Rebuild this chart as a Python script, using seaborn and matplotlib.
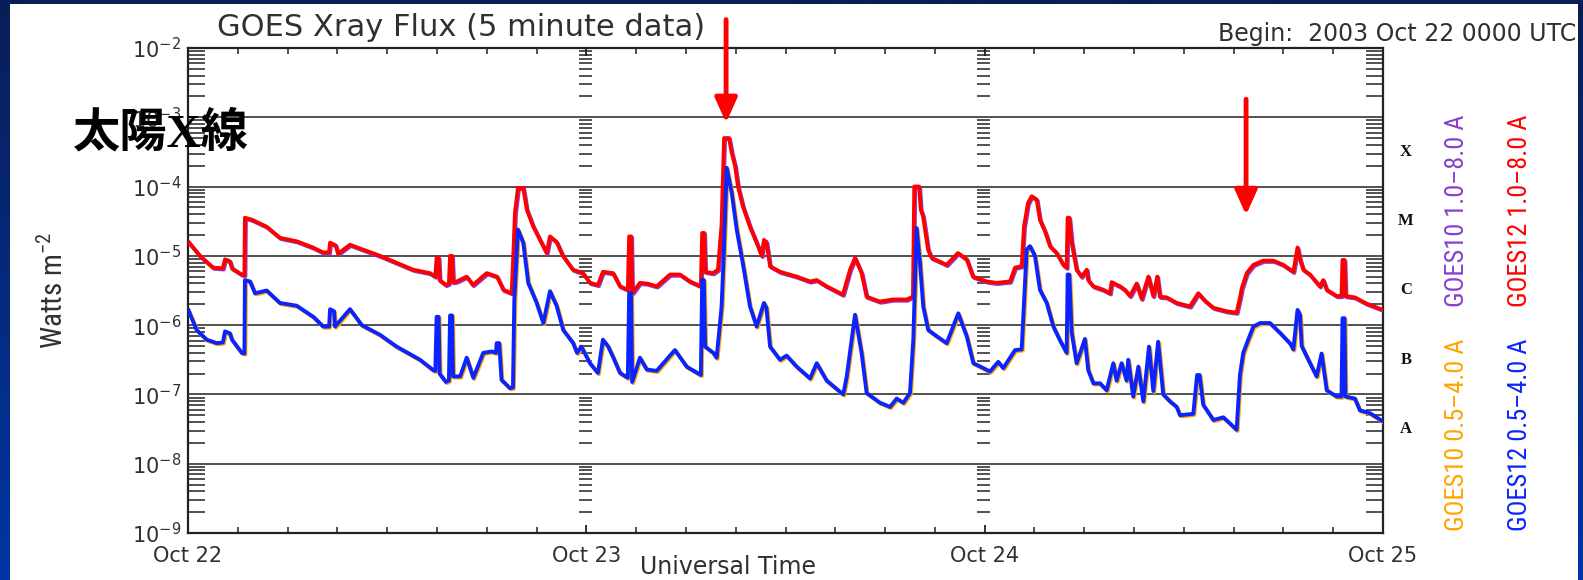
import numpy as np
import matplotlib
matplotlib.use("Agg")
import matplotlib.pyplot as plt
import matplotlib.transforms as mtransforms
from matplotlib import font_manager as fm
from matplotlib.ticker import LogLocator, MultipleLocator, NullFormatter
from matplotlib.patches import Rectangle
from matplotlib.colors import LinearSegmentedColormap
import seaborn as sns

# ---------------- data (hours since 2003 Oct 22 00:00 UTC, log10 W m^-2) -------------
day_hours = [0, 24, 48, 72]
day_labels = ["Oct 22", "Oct 23", "Oct 24", "Oct 25"]
decades = [1e-9, 1e-8, 1e-7, 1e-6, 1e-5, 1e-4, 1e-3, 1e-2]
decade_labels = [r"$10^{-9}$", r"$10^{-8}$", r"$10^{-7}$", r"$10^{-6}$",
                 r"$10^{-5}$", r"$10^{-4}$", r"$10^{-3}$", r"$10^{-2}$"]
class_letters = ["A", "B", "C", "M", "X"]
class_levels = [1e-8, 1e-7, 1e-6, 1e-5, 1e-4]

# GOES12 1.0-8.0 A (long channel)
long_hours = [0.0, 0.72, 1.51, 2.10, 2.23, 2.53, 2.65, 3.24, 3.40, 3.43, 3.86, 4.74, 5.54, 6.55,
              7.53, 8.13, 8.50, 8.56, 8.90, 9.04, 9.76, 10.54, 11.57, 12.57, 13.56, 14.58, 14.90,
              14.98, 15.10, 15.16, 15.54, 15.72, 15.79, 15.91, 15.97, 16.19, 16.79, 17.17, 18.00,
              18.62, 19.00, 19.50, 19.60, 19.70, 19.88, 20.20, 20.41, 20.79, 21.21, 21.61, 21.81,
              22.21, 22.59, 23.20, 23.80, 24.22, 24.70, 25.00, 25.61, 26.03, 26.50, 26.58, 26.70,
              26.76, 27.23, 27.66, 28.24, 29.04, 29.64, 30.25, 30.90, 30.98, 31.10, 31.16, 31.63,
              31.93, 32.15, 32.30, 32.60, 32.76, 32.96, 33.14, 33.44, 33.86, 34.26, 34.57, 34.70,
              34.85, 35.07, 35.67, 36.68, 37.48, 37.88, 38.48, 39.46, 39.89, 40.19, 40.59, 40.89,
              41.69, 42.48, 43.30, 43.68, 43.76, 44.05, 44.15, 44.29, 44.59, 44.81, 45.71, 46.39,
              46.92, 47.30, 48.12, 48.72, 49.53, 49.83, 50.23, 50.37, 50.61, 50.83, 51.14, 51.33,
              51.64, 51.94, 52.34, 52.74, 52.94, 53.00, 53.10, 53.24, 53.54, 53.84, 54.15, 54.24,
              54.55, 55.15, 55.55, 55.65, 56.15, 56.45, 56.76, 57.16, 57.46, 57.86, 58.16, 58.40,
              58.56, 58.97, 59.57, 60.37, 60.87, 61.28, 61.78, 62.58, 63.18, 63.38, 63.49, 63.79,
              64.19, 64.79, 65.39, 65.99, 66.60, 66.85, 67.00, 67.20, 67.60, 68.20, 68.40, 68.61,
              69.21, 69.50, 69.56, 69.68, 69.74, 70.31, 71.01, 72.00]
long_log10 = [-4.79, -5.00, -5.17, -5.18, -5.05, -5.08, -5.18, -5.27, -5.28, -4.45, -4.48, -4.58,
              -4.74, -4.79, -4.88, -4.95, -4.95, -4.81, -4.85, -4.97, -4.84, -4.91, -5.00, -5.10,
              -5.20, -5.25, -5.30, -5.03, -5.03, -5.35, -5.42, -5.40, -5.00, -5.00, -5.38, -5.37,
              -5.30, -5.42, -5.25, -5.30, -5.49, -5.54, -5.00, -4.38, -4.02, -4.02, -4.33, -4.57,
              -4.77, -4.96, -4.72, -4.80, -5.00, -5.20, -5.25, -5.39, -5.42, -5.23, -5.25, -5.44,
              -5.49, -4.72, -4.72, -5.54, -5.39, -5.40, -5.44, -5.27, -5.27, -5.37, -5.44, -4.67,
              -4.67, -5.23, -5.25, -5.20, -4.55, -3.30, -3.30, -3.51, -3.70, -4.00, -4.29, -4.58,
              -4.81, -5.00, -4.77, -4.80, -5.15, -5.23, -5.30, -5.37, -5.35, -5.44, -5.56, -5.20,
              -5.03, -5.25, -5.59, -5.66, -5.63, -5.63, -5.59, -4.00, -4.00, -4.33, -4.43, -4.91,
              -5.03, -5.13, -4.96, -5.05, -5.30, -5.37, -5.39, -5.37, -5.17, -5.15, -4.58, -4.24,
              -4.14, -4.19, -4.48, -4.65, -4.86, -4.96, -5.13, -5.17, -4.45, -4.45, -4.80, -5.20,
              -5.30, -5.20, -5.35, -5.44, -5.49, -5.54, -5.38, -5.44, -5.49, -5.58, -5.40, -5.62,
              -5.30, -5.58, -5.30, -5.59, -5.60, -5.68, -5.73, -5.54, -5.65, -5.75, -5.80, -5.82,
              -5.61, -5.47, -5.25, -5.13, -5.07, -5.07, -5.13, -5.23, -4.88, -5.05, -5.20, -5.27,
              -5.44, -5.35, -5.49, -5.58, -5.58, -5.06, -5.06, -5.58, -5.60, -5.69, -5.78]

# GOES12 0.5-4.0 A (short channel)
short_hours = [0.0, 0.52, 1.13, 1.73, 2.10, 2.23, 2.53, 2.65, 3.24, 3.40, 3.43, 3.74, 4.04, 4.74,
               5.54, 6.55, 7.55, 8.15, 8.50, 8.56, 8.80, 8.86, 9.76, 10.47, 11.57, 12.57, 13.98,
               14.78, 14.90, 14.98, 15.10, 15.16, 15.54, 15.72, 15.79, 15.91, 15.97, 16.40, 16.79,
               17.19, 17.79, 18.30, 18.55, 18.60, 18.75, 18.89, 19.40, 19.58, 19.66, 19.88, 20.20,
               20.50, 21.01, 21.41, 21.81, 22.21, 22.61, 23.21, 23.44, 23.70, 24.22, 24.70, 25.00,
               25.32, 25.63, 26.03, 26.50, 26.58, 26.70, 26.76, 27.23, 27.64, 28.24, 29.04, 29.34,
               30.05, 30.90, 30.98, 31.08, 31.16, 31.65, 31.85, 32.15, 32.29, 32.46, 32.76, 33.06,
               33.46, 33.86, 34.26, 34.70, 34.85, 35.07, 35.67, 36.07, 36.68, 37.48, 37.88, 38.48,
               39.48, 39.69, 39.99, 40.19, 40.59, 40.89, 41.69, 42.30, 42.70, 43.10, 43.50, 43.70,
               43.90, 44.10, 44.30, 44.60, 45.11, 45.71, 46.41, 46.92, 47.32, 47.92, 48.32, 48.82,
               49.12, 49.53, 49.83, 50.23, 50.37, 50.53, 50.73, 51.03, 51.33, 51.74, 52.14, 52.54,
               52.94, 53.00, 53.10, 53.24, 53.54, 54.04, 54.24, 54.55, 54.95, 55.35, 55.75, 55.95,
               56.25, 56.55, 56.65, 56.95, 57.26, 57.56, 57.90, 58.16, 58.45, 58.76, 59.17, 59.57,
               59.77, 60.57, 60.80, 60.95, 61.17, 61.78, 62.38, 62.78, 63.18, 63.38, 63.58, 63.88,
               64.19, 64.59, 65.19, 65.79, 66.39, 66.60, 66.85, 67.00, 67.10, 67.40, 68.00, 68.30,
               68.61, 69.21, 69.50, 69.56, 69.68, 69.74, 70.31, 70.61, 71.21, 72.00]
short_log10 = [-5.77, -6.07, -6.21, -6.26, -6.25, -6.09, -6.12, -6.21, -6.40, -6.41, -5.35, -5.37,
               -5.54, -5.50, -5.68, -5.72, -5.88, -6.02, -6.02, -5.77, -5.80, -6.02, -5.77, -6.00,
               -6.14, -6.31, -6.50, -6.65, -6.66, -5.88, -5.88, -6.70, -6.82, -6.80, -5.86, -5.86,
               -6.74, -6.74, -6.47, -6.76, -6.40, -6.38, -6.40, -6.26, -6.26, -6.79, -6.91, -6.90,
               -5.65, -4.62, -4.81, -5.39, -5.68, -5.97, -5.51, -5.72, -6.07, -6.26, -6.40, -6.31,
               -6.55, -6.69, -6.21, -6.31, -6.47, -6.69, -6.76, -5.54, -5.54, -6.82, -6.47, -6.64,
               -6.66, -6.44, -6.36, -6.60, -6.72, -5.35, -5.35, -6.31, -6.40, -6.47, -5.73, -4.91,
               -3.73, -4.09, -4.62, -5.15, -5.73, -6.02, -5.68, -5.75, -6.31, -6.50, -6.44, -6.60,
               -6.77, -6.55, -6.80, -7.00, -6.74, -6.21, -5.85, -6.41, -6.98, -7.12, -7.18, -7.06,
               -7.12, -6.98, -6.21, -4.60, -5.10, -5.73, -6.07, -6.16, -6.26, -5.83, -6.16, -6.55,
               -6.62, -6.67, -6.53, -6.62, -6.47, -6.36, -6.35, -5.68, -4.91, -4.86, -5.00, -5.49,
               -5.68, -6.02, -6.22, -6.40, -5.27, -5.27, -6.10, -6.55, -6.20, -6.65, -6.84, -6.84,
               -6.94, -6.55, -6.80, -6.55, -6.80, -6.50, -7.03, -6.60, -7.10, -6.31, -6.95, -6.24,
               -7.00, -7.10, -7.18, -7.30, -7.28, -6.72, -6.72, -7.15, -7.37, -7.33, -7.42, -7.51,
               -6.72, -6.40, -6.21, -6.02, -5.97, -5.97, -6.11, -6.26, -6.35, -5.78, -5.85, -6.30,
               -6.45, -6.74, -6.41, -6.94, -7.03, -7.03, -5.90, -5.90, -7.03, -7.06, -7.23, -7.27,
               -7.39]

# red arrows marking the two events (hour, tail log10, tip log10)
arrow_hours = [32.42, 63.75]
arrow_tail_log10 = [-1.59, -2.74]
arrow_tip_log10 = [-3.08, -4.41]

legend_labels = ["GOES10 1.0\u20138.0 A", "GOES12 1.0\u20138.0 A",
                 "GOES10 0.5\u20134.0 A", "GOES12 0.5\u20134.0 A"]

# ---------------- styling ----------------
sns.set_style("white")
plt.rcParams["font.family"] = ["DejaVu Sans", "Noto Sans CJK JP"]
plt.rcParams["mathtext.default"] = "regular"

names = {f.name for f in fm.fontManager.ttflist}
narrow = dict(family="DejaVu Sans")
for n in ["Liberation Sans Narrow", "DejaVu Sans Condensed", "Roboto Condensed"]:
    if n in names:
        narrow = dict(family=n)
        break
else:
    if any(f.name == "DejaVu Sans" and str(f.stretch) == "condensed" for f in fm.fontManager.ttflist):
        narrow = dict(family="DejaVu Sans", fontstretch="condensed")

RED = "#ff0000"
BLUE = "#0a24ff"
ORANGE = "#ffa500"
PURPLE = "#8a3fd0"
INK = "#222222"
TXT = "#303030"

W, H = 1583, 580
fig = plt.figure(figsize=(W / 100, H / 100), dpi=100)

# navy slide background with white panel
bg = fig.add_axes([0, 0, 1, 1], zorder=-10)
cmap = LinearSegmentedColormap.from_list("bg", ["#0a1e58", "#0036a3"])
bg.imshow(np.linspace(0, 1, 256).reshape(-1, 1), aspect="auto", cmap=cmap,
          extent=[0, 1, 0, 1], origin="upper")
bg.add_patch(Rectangle((10 / W, 0), (1578 - 10) / W, 1 - 4 / H, facecolor="white",
                       edgecolor="none", transform=bg.transAxes))
bg.set_xlim(0, 1)
bg.set_ylim(0, 1)
bg.set_axis_off()

ax = fig.add_axes([188 / W, (H - 533) / H, 1195 / W, 485 / H])
ax.set_facecolor("none")
ax.set_yscale("log")
ax.set_xlim(0, 72)
ax.set_ylim(1e-9, 1e-2)

long_flux = 10.0 ** np.array(long_log10)
short_flux = 10.0 ** np.array(short_log10)
under = mtransforms.offset_copy(ax.transData, fig=fig, x=1.0, y=-1.2, units="dots")

# GOES10 traces lie almost exactly beneath the GOES12 ones
sns.lineplot(x=long_hours, y=long_flux, ax=ax, color=PURPLE, lw=2.8, transform=under,
             estimator=None, sort=False, legend=False, zorder=3)
sns.lineplot(x=short_hours, y=short_flux, ax=ax, color=ORANGE, lw=2.8, transform=under,
             estimator=None, sort=False, legend=False, zorder=3)
sns.lineplot(x=long_hours, y=long_flux, ax=ax, color=RED, lw=2.8,
             estimator=None, sort=False, legend=False, zorder=4)
sns.lineplot(x=short_hours, y=short_flux, ax=ax, color=BLUE, lw=2.8,
             estimator=None, sort=False, legend=False, zorder=4)

# axes, ticks, grid
ax.set_xticks(day_hours, labels=day_labels)
ax.xaxis.set_minor_locator(MultipleLocator(3))
ax.set_yticks(decades, labels=decade_labels)
ax.yaxis.set_minor_locator(LogLocator(base=10, subs=np.arange(2, 10), numticks=30))
ax.yaxis.set_minor_formatter(NullFormatter())
ax.tick_params(axis="y", which="minor", direction="in", length=12, width=1.1,
               left=True, right=True, color=INK)
ax.tick_params(axis="y", which="major", direction="in", length=0, pad=5,
               labelsize=15, labelcolor=TXT, left=True, right=True)
ax.tick_params(axis="x", which="major", direction="in", length=6, width=1.3,
               top=True, bottom=True, pad=9, labelsize=15, labelcolor=TXT, color=INK)
ax.tick_params(axis="x", which="minor", direction="in", length=4, width=1.1,
               top=True, bottom=True, color=INK)
ax.grid(False)
for y in decades[1:-1]:
    ax.axhline(y, color=INK, lw=1.1, zorder=2)
for s in ax.spines.values():
    s.set_color(INK)
    s.set_linewidth(1.6)

# y-tick columns at the day boundaries
minor_pos = [k * d for d in decades[:-1] for k in range(2, 10)]
for b in day_hours[1:-1]:
    ax.hlines(minor_pos, b - 0.45, b + 0.32, colors=INK, lw=1.1, zorder=2)

ax.set_xlabel("")
ax.set_ylabel("Watts m$^{-2}$", fontsize=21, color=TXT, **narrow)
ax.yaxis.set_label_coords(-0.100, 0.50)

# flare class letters on the right
cls_tf = mtransforms.blended_transform_factory(ax.transAxes, ax.transData)
for letter, lev in zip(class_letters, class_levels):
    ax.text(1.0192, lev * 10 ** 0.5, letter, transform=cls_tf, ha="center", va="center",
            fontsize=12, fontweight="bold", family="Liberation Serif", color="#111111")

# arrows
for h, t, p in zip(arrow_hours, arrow_tail_log10, arrow_tip_log10):
    ax.annotate("", xy=(h, 10 ** p), xytext=(h, 10 ** t), annotation_clip=False,
                arrowprops=dict(arrowstyle="-|>,head_length=1.0,head_width=0.45",
                                color=RED, lw=3.5, shrinkA=0, shrinkB=0,
                                mutation_scale=15), zorder=6)

def fx(px):
    return px / W

def fy(py):
    return 1 - py / H

# titles
fig.text(fx(461), fy(27), "GOES Xray Flux (5 minute data)", ha="center", va="center",
         fontsize=22, color=TXT)
fig.text(fx(1576), fy(34), "Begin:  2003 Oct 22 0000 UTC", ha="right", va="center",
         fontsize=17, color=TXT)
fig.text(fx(728), fy(567), "Universal Time", ha="center", va="center",
         fontsize=17, color=TXT)

# channel legend (rotated)
leg_pos = [(1457, 211), (1520, 211), (1457, 435), (1520, 435)]
leg_cols = [PURPLE, RED, ORANGE, BLUE]
for lab, (px, py), c in zip(legend_labels, leg_pos, leg_cols):
    fig.text(fx(px), fy(py), lab, rotation=90, ha="center", va="center",
             fontsize=19, color=c, **narrow)

# overlay caption
fig.text(fx(73), fy(134), "太陽X線", ha="left", va="center", fontsize=34,
         fontweight="bold", family=["Liberation Serif", "Noto Sans CJK JP"], color="black")

fig.savefig("out.png", dpi=100)
